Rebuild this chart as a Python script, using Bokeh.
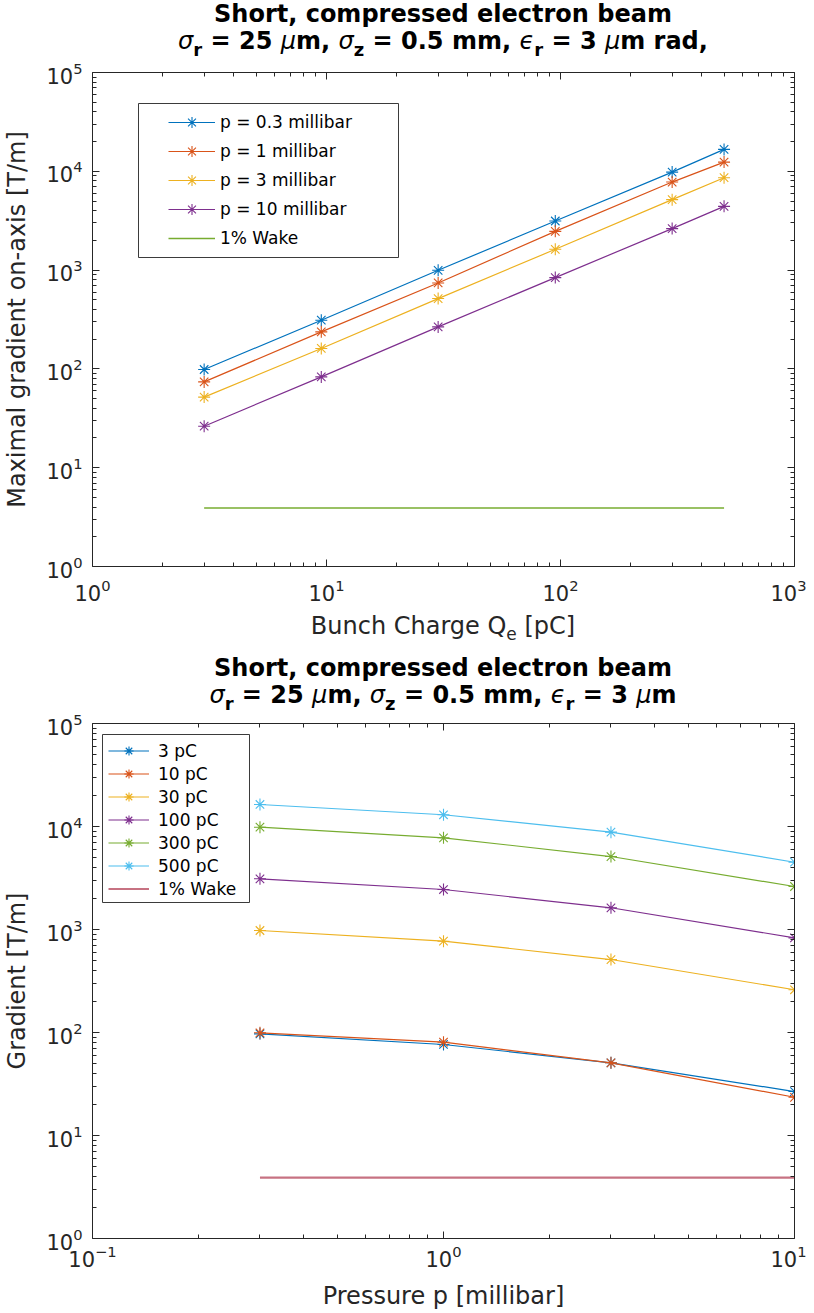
from bokeh.plotting import figure
from bokeh.models import (LogAxis, Legend, LegendItem, FixedTicker, BoxAnnotation, Div,
                          CustomJSTickFormatter)
from bokeh.layouts import column
from bokeh.embed import file_html
from bokeh.resources import INLINE

# ---------------- data: top chart (gradient vs bunch charge) ----------------
charge_pc = [3, 9.5, 30, 95, 300, 500]
grad_p03 = [98.6, 311, 995, 3140, 9815, 16650]
grad_p1 = [73.9, 237, 741, 2467, 7780, 12390]
grad_p3 = [51.8, 161, 515, 1623, 5164, 8610]
grad_p10 = [26.3, 83, 266, 840, 2630, 4416]
wake_top_x = [3, 500]
wake_top_y = [3.9, 3.9]
top_labels = ["p = 0.3 millibar", "p = 1 millibar", "p = 3 millibar",
              "p = 10 millibar", "1% Wake"]

# ---------------- data: bottom chart (gradient vs pressure) ----------------
pressure_mbar = [0.3, 1, 3, 10]
grad_3pc = [97, 76.5, 50.8, 26.7]
grad_10pc = [99.3, 80.5, 50.8, 23.5]
grad_30pc = [978, 770, 511, 260]
grad_100pc = [3105, 2445, 1625, 830]
grad_300pc = [9840, 7770, 5110, 2615]
grad_500pc = [16360, 13000, 8810, 4500]
wake_bot_x = [0.3, 10]
wake_bot_y = [3.9, 3.9]
bottom_labels = ["3 pC", "10 pC", "30 pC", "100 pC", "300 pC", "500 pC", "1% Wake"]

# tick decades
top_x_decades = [1, 10, 100, 1000]
bot_x_decades = [0.1, 1, 10]
y_decades = [1, 10, 100, 1000, 10000, 100000]

FONT = "DejaVu Sans"
AX = "#262626"
COLORS = ["#0072BD", "#D95319", "#EDB120", "#7E2F8E", "#77AC30", "#4DBEEE", "#A2142F"]
W = 806
LEFT = 92


def minor_ticks(decs):
    out = []
    for d in decs[:-1]:
        out += [m * d for m in range(2, 10)]
    return out


def ticker(decs):
    return FixedTicker(ticks=decs, minor_ticks=minor_ticks(decs))


def style_axis(ax, labels=True, standoff=10):
    ax.axis_line_color = AX
    ax.axis_line_width = 1
    ax.major_tick_line_color = AX
    ax.minor_tick_line_color = AX
    ax.major_tick_in = 7
    ax.major_tick_out = 0
    ax.minor_tick_in = 4
    ax.minor_tick_out = 0
    ax.major_label_text_font = FONT
    ax.major_label_text_color = AX
    ax.axis_label_text_font = FONT
    ax.axis_label_text_font_style = "normal"
    ax.axis_label_text_font_size = "24px"
    ax.axis_label_text_color = AX
    ax.major_label_text_font_size = "21px"
    if labels:
        ax.major_label_standoff = standoff
    else:
        ax.formatter = CustomJSTickFormatter(code="return ''")
        ax.major_label_standoff = 0


def make_fig(height, xr, xdecs, mbt, mbb, ylabel, xlabel=None, xstand=10):
    p = figure(width=W, height=height, x_axis_type="log", y_axis_type="log",
               x_range=xr, y_range=(1, 1e5), output_backend="svg",
               toolbar_location=None, min_border_left=LEFT, min_border_right=W - LEFT - 702,
               min_border_top=mbt, min_border_bottom=mbb)
    p.xgrid.visible = False
    p.ygrid.visible = False
    p.outline_line_color = None
    p.background_fill_color = "white"
    p.border_fill_color = "white"
    p.xaxis.ticker = ticker(xdecs)
    p.yaxis.ticker = ticker(y_decades)
    for ax in p.xaxis:
        style_axis(ax, True, xstand)
        if xlabel:
            ax.axis_label = xlabel
            ax.axis_label_standoff = 12
    for ax in p.yaxis:
        style_axis(ax, True, 10)
        ax.axis_label = ylabel
        ax.axis_label_standoff = 12
    ra = LogAxis(ticker=ticker(y_decades))
    style_axis(ra, False)
    p.add_layout(ra, "right")
    ta = LogAxis(ticker=ticker(xdecs))
    style_axis(ta, False)
    p.add_layout(ta, "above")
    return p


def add_series(p, x, y, color, label, items):
    l = p.line(x, y, line_color=color, line_width=1.2)
    s = p.scatter(x, y, marker="asterisk", size=12, line_color=color, line_width=1.1)
    items.append(LegendItem(label=label, renderers=[l, s]))


SUB = '<sub style="font-size:18px;line-height:0;vertical-align:-7px">{}</sub>'
GR = '<span style="font-style:italic;font-weight:normal">{}</span>'


def title_div(line2, height, pad):
    html = ('<div style="width:702px;margin-left:%dpx;padding-top:%dpx;text-align:center;'
            'font-family:\'DejaVu Sans\';font-weight:bold;font-size:24px;'
            'line-height:27px;color:#000;white-space:nowrap">'
            'Short, compressed electron beam<br>' % (LEFT, pad) + line2 + '</div>')
    return Div(text=html, width=W, height=height, margin=0)


line2_base = (GR.format("σ") + SUB.format("r") + " = 25 " + GR.format("μ") + "m, "
              + GR.format("σ") + SUB.format("z") + " = 0.5 mm, "
              + GR.format("ϵ") + SUB.format("r") + " = 3 " + GR.format("μ") + "m")

# ---------------- top figure ----------------
t1 = title_div(line2_base + " rad,", 58, 1)
p1 = make_fig(550, (1, 1000), top_x_decades, 14, 42,
              "Maximal gradient on-axis [T/m]", None, 12)
items1 = []
for yv, c, lab in zip([grad_p03, grad_p1, grad_p3, grad_p10], COLORS[:4], top_labels[:4]):
    add_series(p1, charge_pc, yv, c, lab, items1)
w1 = p1.line(wake_top_x, wake_top_y, line_color=COLORS[4], line_width=1.5)
items1.append(LegendItem(label=top_labels[4], renderers=[w1]))
box1 = BoxAnnotation(left=46, right=306, top=463, bottom=309,
                     left_units="screen", right_units="screen",
                     top_units="screen", bottom_units="screen",
                     fill_color="white", fill_alpha=1.0,
                     line_color=AX, line_width=1, line_alpha=0.9)
p1.add_layout(box1)
leg1 = Legend(items=items1, location=(70, 308), padding=6, spacing=1,
              glyph_height=28, glyph_width=47, label_height=28, label_standoff=5,
              label_text_font=FONT, label_text_font_size="17px",
              label_text_color="#000000", border_line_alpha=0,
              background_fill_alpha=0, margin=0)
p1.add_layout(leg1)

x1 = Div(text=('<div style="width:702px;margin-left:%dpx;text-align:center;'
               'font-family:\'DejaVu Sans\';font-size:24px;line-height:28px;'
               'padding-top:4px;color:#262626;white-space:nowrap">'
               'Bunch Charge Q<sub style="font-size:17px;line-height:0;'
               'vertical-align:-6px">e</sub> [pC]</div>' % LEFT),
         width=W, height=38, margin=0)

# ---------------- bottom figure ----------------
t2 = title_div(line2_base, 64, 9)
p2 = make_fig(603, (0.1, 10), bot_x_decades, 13, 75,
              "Gradient [T/m]", "Pressure p [millibar]", 6)
items2 = []
for yv, c, lab in zip([grad_3pc, grad_10pc, grad_30pc, grad_100pc, grad_300pc, grad_500pc],
                      COLORS[:6], bottom_labels[:6]):
    add_series(p2, pressure_mbar, yv, c, lab, items2)
w2 = p2.line(wake_bot_x, wake_bot_y, line_color=COLORS[6], line_width=2.2, line_alpha=0.6)
items2.append(LegendItem(label=bottom_labels[6], renderers=[w2]))
box2 = BoxAnnotation(left=10, right=157, top=504, bottom=336,
                     left_units="screen", right_units="screen",
                     top_units="screen", bottom_units="screen",
                     fill_color="white", fill_alpha=1.0,
                     line_color=AX, line_width=1, line_alpha=0.9)
p2.add_layout(box2)
leg2 = Legend(items=items2, location=(10, 332), padding=6, spacing=0,
              glyph_height=23, glyph_width=41, label_height=23, label_standoff=9,
              label_text_font=FONT, label_text_font_size="17px",
              label_text_color="#000000", border_line_alpha=0,
              background_fill_alpha=0, margin=0)
p2.add_layout(leg2)

layout = column(t1, p1, x1, t2, p2, spacing=0)
open("out.html", "w").write(file_html(layout, INLINE))
